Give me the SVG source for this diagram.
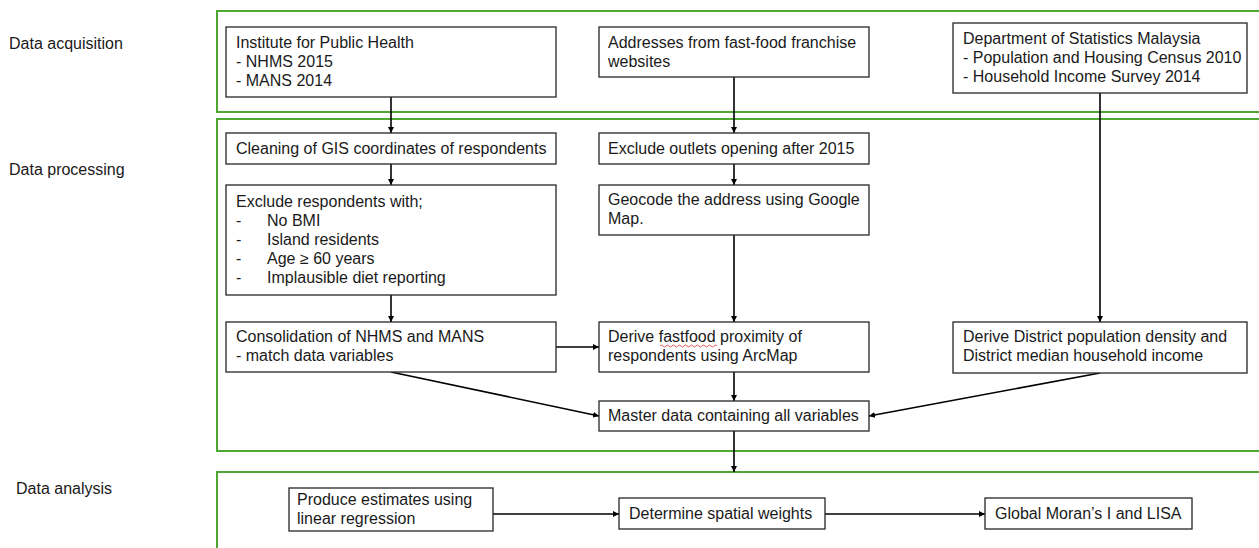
<svg xmlns="http://www.w3.org/2000/svg" width="1259" height="548" viewBox="0 0 1259 548">
<style>
text{font-family:"Liberation Sans",Arial,sans-serif;font-size:16px;fill:#1a1a1a}
.panel{fill:none;stroke:#4ea72e;stroke-width:2}
.box{fill:#fff;stroke:#262626;stroke-width:1.3}
.c{fill:none;stroke:#000;stroke-width:1.6;marker-end:url(#ah)}
</style>
<defs>
<marker id="ah" viewBox="0 0 10 10" refX="10" refY="5" markerWidth="6" markerHeight="6" orient="auto" markerUnits="userSpaceOnUse">
<path d="M0,0 L10,5 L0,10 z" fill="#000"/>
</marker>
</defs>
<rect fill="#fff" width="1259" height="548"/>
<g id="panels">
<rect class="panel" x="217" y="11" width="1050" height="101"/>
<rect class="panel" x="217" y="119" width="1050" height="332"/>
<rect class="panel" x="217" y="472" width="1050" height="90"/>
</g>
<g id="stage-labels">
<text x="9" y="49">Data acquisition</text>
<text x="9" y="175">Data processing</text>
<text x="16" y="494">Data analysis</text>
</g>
<g id="connectors">
<line class="c" x1="391" y1="97" x2="391" y2="133"/>
<line class="c" x1="734" y1="77" x2="734" y2="133"/>
<line class="c" x1="1100" y1="93" x2="1100" y2="322"/>
<line class="c" x1="391" y1="164" x2="391" y2="185"/>
<line class="c" x1="391" y1="295" x2="391" y2="322"/>
<line class="c" x1="734" y1="164" x2="734" y2="185"/>
<line class="c" x1="734" y1="235" x2="734" y2="322"/>
<line class="c" x1="556" y1="347" x2="599" y2="347"/>
<line class="c" x1="391" y1="372" x2="599" y2="416"/>
<line class="c" x1="734" y1="372" x2="734" y2="401"/>
<line class="c" x1="1100" y1="373" x2="869" y2="416"/>
<line class="c" x1="734" y1="431" x2="734" y2="472"/>
<line class="c" x1="493" y1="514" x2="619" y2="514"/>
<line class="c" x1="825" y1="514" x2="985" y2="514"/>
</g>
<g id="n-iph">
<rect class="box" x="226" y="27" width="330" height="70"/>
<text x="236" y="48">Institute for Public Health</text>
<text x="236" y="67">- NHMS 2015</text>
<text x="236" y="86">- MANS 2014</text>
</g>
<g id="n-addr">
<rect class="box" x="599" y="27" width="270" height="50"/>
<text x="608" y="48">Addresses from fast-food franchise</text>
<text x="608" y="67">websites</text>
</g>
<g id="n-dosm">
<rect class="box" x="953" y="23" width="294" height="70"/>
<text x="963" y="44">Department of Statistics Malaysia</text>
<text x="963" y="63">- Population and Housing Census 2010</text>
<text x="963" y="82">- Household Income Survey 2014</text>
</g>
<g id="n-clean">
<rect class="box" x="226" y="133" width="330" height="31"/>
<text x="236" y="154">Cleaning of GIS coordinates of respondents</text>
</g>
<g id="n-excl-resp">
<rect class="box" x="226" y="185" width="330" height="110"/>
<text x="236" y="207">Exclude respondents with;</text>
<text x="236" y="226">-</text><text x="267" y="226">No BMI</text>
<text x="236" y="245">-</text><text x="267" y="245">Island residents</text>
<text x="236" y="264">-</text><text x="267" y="264">Age ≥ 60 years</text>
<text x="236" y="283">-</text><text x="267" y="283">Implausible diet reporting</text>
</g>
<g id="n-consol">
<rect class="box" x="226" y="322" width="330" height="50"/>
<text x="236" y="342">Consolidation of NHMS and MANS</text>
<text x="236" y="361">- match data variables</text>
</g>
<g id="n-excl-out">
<rect class="box" x="599" y="133" width="270" height="31"/>
<text x="608" y="154">Exclude outlets opening after 2015</text>
</g>
<g id="n-geocode">
<rect class="box" x="599" y="185" width="270" height="50"/>
<text x="608" y="205">Geocode the address using Google</text>
<text x="608" y="224">Map.</text>
</g>
<g id="n-derive-ff">
<rect class="box" x="599" y="322" width="270" height="50"/>
<text x="608" y="342">Derive fastfood proximity of</text>
<text x="608" y="361">respondents using ArcMap</text>
<path d="M660,346 q1.5,-2 3,0 t3,0 t3,0 t3,0 t3,0 t3,0 t3,0 t3,0 t3,0 t3,0 t3,0 t3,0 t3,0 t3,0 t3,0 t3,0 t3,0 t3,0 t3,0" fill="none" stroke="#e03030" stroke-width="0.8"/>
</g>
<g id="n-master">
<rect class="box" x="599" y="401" width="270" height="30"/>
<text x="608" y="421">Master data containing all variables</text>
</g>
<g id="n-district">
<rect class="box" x="953" y="322" width="294" height="51"/>
<text x="963" y="342">Derive District population density and</text>
<text x="963" y="361">District median household income</text>
</g>
<g id="n-produce">
<rect class="box" x="289" y="488" width="204" height="43"/>
<text x="297" y="505">Produce estimates using</text>
<text x="297" y="524">linear regression</text>
</g>
<g id="n-weights">
<rect class="box" x="619" y="498" width="206" height="31"/>
<text x="629" y="519">Determine spatial weights</text>
</g>
<g id="n-moran">
<rect class="box" x="985" y="498" width="207" height="31"/>
<text x="995" y="519">Global Moran’s I and LISA</text>
</g>
</svg>
